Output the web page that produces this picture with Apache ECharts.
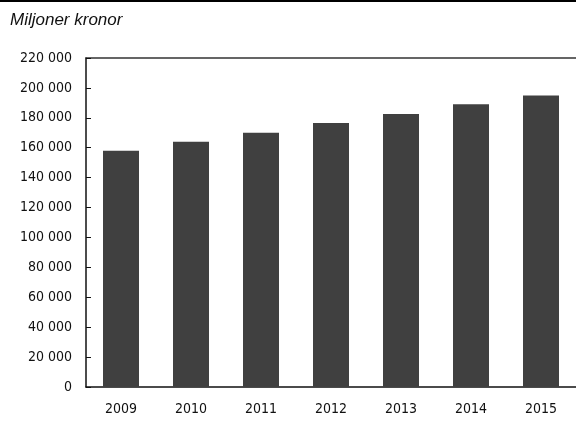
<!DOCTYPE html>
<html>
<head>
<meta charset="utf-8">
<style>
  html, body { margin: 0; padding: 0; background: #fff; }
  #chart { width: 576px; height: 421px; }
</style>
<script src="https://cdn.jsdelivr.net/npm/echarts@6/dist/echarts.min.js"></script>
</head>
<body>
<div id="chart"></div>
<script>
var years = ['2009', '2010', '2011', '2012', '2013', '2014', '2015']
var values = [158000, 164000, 170000, 176500, 182500, 189000, 195000]
var yMax = 220000
var yStep = 20000

var labelFont = '"Liberation Sans Narrow", "DejaVu Sans Condensed", sans-serif'

function fmt(v) {
  return String(v).replace(/\B(?=(\d{3})+(?!\d))/g, ' ')
}

var myChart = echarts.init(document.getElementById('chart'))

var option = {
  animation: false,
  grid: { left: 86, right: -2, top: 58, bottom: 34 },
  graphic: [
    {
      type: 'line',
      shape: { x1: 0, y1: 1, x2: 576, y2: 1 },
      style: { stroke: '#000', lineWidth: 2 }
    },
    {
      type: 'text',
      left: 10,
      top: 12,
      style: {
        text: 'Miljoner kronor',
        font: 'italic 17px "Liberation Sans"',
        fill: '#111'
      }
    }
  ],
  xAxis: [
    {
      type: 'category',
      data: years,
      axisLine: { lineStyle: { color: '#111', width: 1.5 } },
      axisTick: { show: false },
      axisLabel: {
        color: '#111',
        fontFamily: labelFont,
        fontSize: 14,
        margin: 15
      }
    },
    {
      type: 'category',
      position: 'top',
      data: years,
      axisLine: { show: true, lineStyle: { color: '#333', width: 1.5 } },
      axisTick: { show: false },
      axisLabel: { show: false }
    }
  ],
  yAxis: {
    type: 'value',
    min: 0,
    max: yMax,
    interval: yStep,
    axisLine: { show: true, lineStyle: { color: '#111', width: 1.5 } },
    axisTick: { show: true, inside: true, length: 5, lineStyle: { color: '#111' } },
    splitLine: { show: false },
    axisLabel: {
      color: '#111',
      fontFamily: labelFont,
      fontSize: 14,
      margin: 14,
      formatter: fmt
    }
  },
  series: [
    {
      type: 'bar',
      data: values,
      barWidth: 36,
      itemStyle: { color: '#404040' }
    }
  ]
}

myChart.setOption(option, true)
</script>
</body>
</html>
